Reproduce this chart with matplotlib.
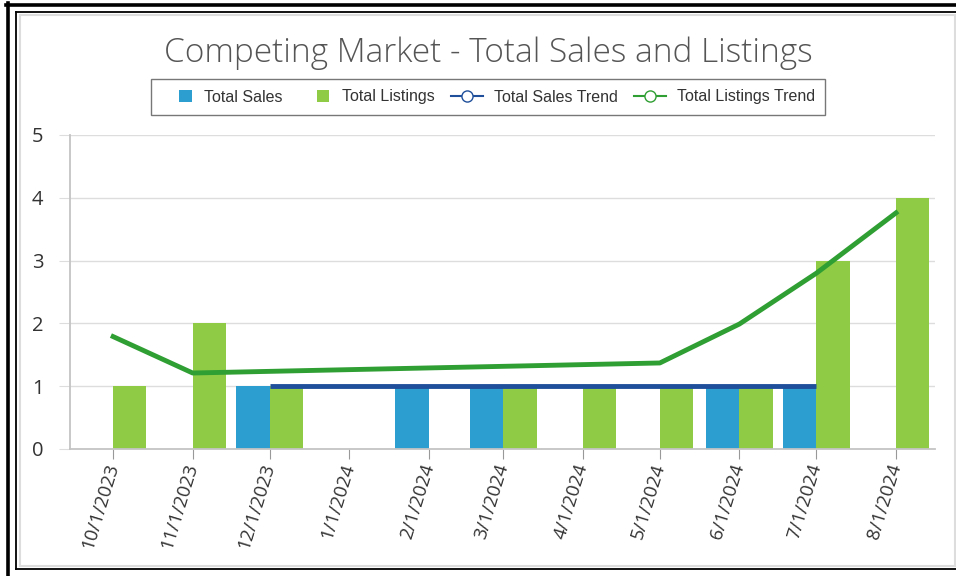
import matplotlib
matplotlib.use("Agg")
import matplotlib.pyplot as plt
import matplotlib.dates as mdates
from matplotlib.lines import Line2D
from matplotlib.patches import Patch, Rectangle
from matplotlib.legend_handler import HandlerBase
import pandas as pd

# Data
months = ["10/1/2023", "11/1/2023", "12/1/2023", "1/1/2024", "2/1/2024", "3/1/2024",
          "4/1/2024", "5/1/2024", "6/1/2024", "7/1/2024", "8/1/2024"]
sales_dates = ["12/1/2023", "2/1/2024", "3/1/2024", "6/1/2024", "7/1/2024"]
sales = [1, 1, 1, 1, 1]
listing_dates = ["10/1/2023", "11/1/2023", "12/1/2023", "3/1/2024", "4/1/2024",
                 "5/1/2024", "6/1/2024", "7/1/2024", "8/1/2024"]
listings = [1, 2, 1, 1, 1, 1, 1, 3, 4]
sales_trend_dates = ["12/1/2023", "7/1/2024"]
sales_trend = [1, 1]
listings_trend_dates = ["10/1/2023", "11/1/2023", "5/1/2024", "6/1/2024", "7/1/2024", "8/1/2024"]
listings_trend = [1.79, 1.21, 1.37, 1.99, 2.80, 3.76]

BLUE = "#2c9fd0"
GREEN = "#8fcb45"
BLUE_LINE = "#1f4f9a"
GREEN_LINE = "#2f9e33"

W, H = 956, 576
fig = plt.figure(figsize=(W / 100, H / 100), dpi=100)


def px(x, y):
    return x / W, 1 - y / H


def frame_line(x0, y0, x1, y1, color, lw):
    (a, b), (c, d) = px(x0, y0), px(x1, y1)
    fig.add_artist(Line2D([a, c], [b, d], transform=fig.transFigure, color=color, lw=lw))


class SquareHandler(HandlerBase):
    """Small square swatch sitting at the right end of the handle box."""
    def create_artists(self, legend, orig_handle, xdescent, ydescent, width, height,
                       fontsize, trans):
        s = fontsize * 0.78
        x0 = width - s - xdescent - 1
        y0 = (height - s) / 2 - ydescent
        return [Rectangle((x0, y0), s, s, facecolor=orig_handle.get_facecolor(),
                          edgecolor="none", transform=trans)]


# page borders
frame_line(6, 4.5, 956, 4.5, "black", 2.6)
frame_line(7.5, 3, 7.5, 576, "black", 2.6)
frame_line(16, 12, 956, 12, "black", 1.3)
frame_line(16, 12, 16, 569, "black", 1.3)
frame_line(16, 569, 956, 569, "black", 1.3)
frame_line(19.5, 15, 955, 15, "#dddddd", 1.5)
frame_line(19.5, 15, 19.5, 566, "#dddddd", 1.5)
frame_line(955, 15, 955, 566, "#dddddd", 1.5)
frame_line(19.5, 566, 955, 566, "#dddddd", 1.5)

l, b = px(70, 449)
r, t = px(935, 135)
ax = fig.add_axes([l, b, r - l, t - b])

to_num = lambda ds: mdates.date2num(pd.to_datetime(ds, format="%m/%d/%Y"))
xm = to_num(months)
xs = to_num(sales_dates)
xl = to_num(listing_dates)
bw = 13  # days

ax.bar(xs - bw / 2, sales, width=bw, color=BLUE, zorder=2)
ax.bar(xl + bw / 2, listings, width=bw, color=GREEN, zorder=2)
ax.plot(to_num(sales_trend_dates), sales_trend, color=BLUE_LINE, lw=3.5, zorder=3,
        solid_capstyle="butt")
ax.plot(to_num(listings_trend_dates), listings_trend, color=GREEN_LINE, lw=3.5, zorder=3)

ax.set_xlim(xm[0] - 16.8, xm[-1] + 15.2)
ax.set_ylim(0, 5)
ax.set_yticks(range(6))
ax.set_xticks(xm)
ax.set_xticklabels(months, rotation=73, ha="right", va="center", rotation_mode="anchor")
ax.yaxis.grid(True, color="#dddddd", lw=1)
ax.set_axisbelow(True)
for s in ("top", "right"):
    ax.spines[s].set_visible(False)
for s in ("left", "bottom"):
    ax.spines[s].set_color("#c4c4c4")
    ax.spines[s].set_linewidth(1.3)
ax.tick_params(axis="x", length=7, color="#999999", labelsize=13.5, labelcolor="#333333", pad=4)
ax.tick_params(axis="y", length=8, color="#dddddd", labelsize=14.5, labelcolor="#333333", pad=11)
for lab in ax.get_xticklabels() + ax.get_yticklabels():
    lab.set_family("Open Sans")

cx, cy = px(488, 53)
fig.text(cx, cy, "Competing Market - Total Sales and Listings", ha="center", va="center",
         fontsize=24, color="#555555", family="Open Sans", weight="light")

sq_sales = Patch(facecolor=BLUE, label="Total Sales")
sq_list = Patch(facecolor=GREEN, label="Total Listings")
handles = [
    sq_sales,
    sq_list,
    Line2D([], [], color=BLUE_LINE, lw=1.5, marker="o", markersize=8, markerfacecolor="white",
           label="Total Sales Trend"),
    Line2D([], [], color=GREEN_LINE, lw=1.5, marker="o", markersize=8, markerfacecolor="white",
           label="Total Listings Trend"),
]
lx, ly = px(488, 97)
leg = fig.legend(handles=handles, loc="center", bbox_to_anchor=(lx, ly), ncol=4,
                 frameon=True, fancybox=False, edgecolor="#555555",
                 prop={"family": "Liberation Sans", "size": 11.5},
                 handlelength=2.0, handletextpad=0.7, columnspacing=1.0,
                 borderpad=0.65,
                 handler_map={sq_sales: SquareHandler(), sq_list: SquareHandler()})
leg.get_frame().set_linewidth(1.0)
for txt in leg.get_texts():
    txt.set_color("#333333")

fig.savefig("out.png", dpi=100, facecolor="white")
